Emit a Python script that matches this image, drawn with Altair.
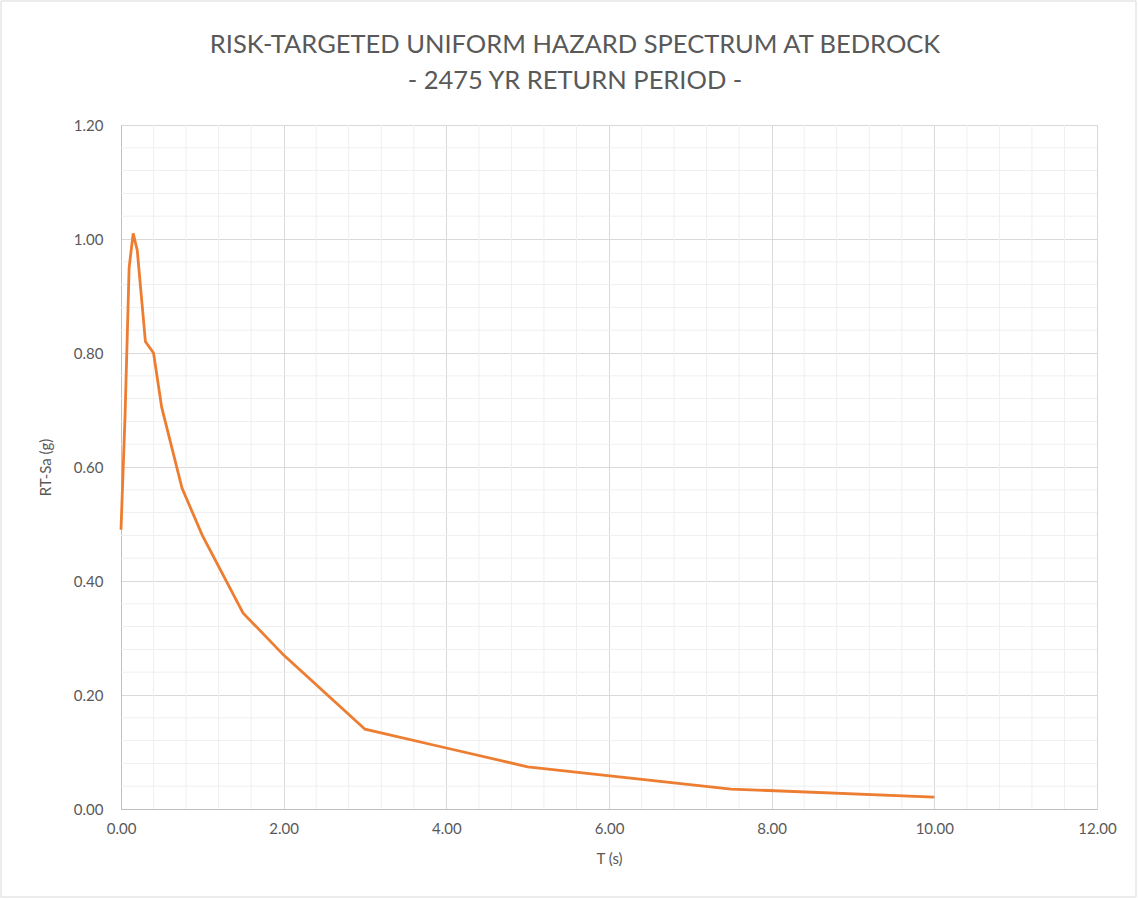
import altair as alt
import pandas as pd

# Risk-targeted uniform hazard spectrum at bedrock (2475 yr return period)
period_s = [0.0, 0.05, 0.10, 0.15, 0.20, 0.30, 0.40, 0.50, 0.75, 1.00, 1.50, 2.00,
            3.00, 4.00, 5.00, 7.50, 10.00]
rt_sa_g = [0.49, 0.69, 0.95, 1.01, 0.98, 0.82, 0.80, 0.705, 0.563, 0.48, 0.344, 0.27,
           0.14, 0.107, 0.074, 0.035, 0.021]

x_major = [0, 2, 4, 6, 8, 10, 12]
y_major = [0.0, 0.2, 0.4, 0.6, 0.8, 1.0, 1.2]
x_minor = [round(i * 0.4, 2) for i in range(31) if i % 5 != 0]
y_minor = [round(i * 0.04, 2) for i in range(31) if i % 5 != 0]

FONT = "Lato"
TEXT = "#595959"
ORANGE = "#ED7D31"

spectrum = pd.DataFrame({"T": period_s, "Sa": rt_sa_g})

x_scale = alt.Scale(domain=[0, 12], nice=False, zero=True)
y_scale = alt.Scale(domain=[0, 1.2], nice=False)

common_axis = dict(
    format=".2f", grid=True, gridColor="#d9d9d9", tickSize=0,
    domainColor="#bfbfbf", labelFont=FONT, titleFont=FONT,
    labelColor=TEXT, titleColor=TEXT, labelFontSize=15, titleFontSize=15,
    titleFontWeight="normal", labelFlush=False,
)
x_axis = alt.Axis(values=x_major, title="T (s)", labelPadding=12, titlePadding=15,
                  **common_axis)
y_axis = alt.Axis(values=y_major, title="RT-Sa (g)", labelPadding=18, titlePadding=20,
                  **common_axis)

minor_v = alt.Chart(pd.DataFrame({"T": x_minor})).mark_rule(
    color="#efefef", strokeWidth=1
).encode(x=alt.X("T:Q", scale=x_scale, axis=x_axis))

minor_h = alt.Chart(pd.DataFrame({"Sa": y_minor})).mark_rule(
    color="#efefef", strokeWidth=1
).encode(y=alt.Y("Sa:Q", scale=y_scale, axis=y_axis))

curve = alt.Chart(spectrum).mark_line(color=ORANGE, strokeWidth=2.8).encode(
    x=alt.X("T:Q", scale=x_scale, axis=x_axis),
    y=alt.Y("Sa:Q", scale=y_scale, axis=y_axis),
)

# outer chart-area frame
frame = alt.Chart(pd.DataFrame({"T": [0]})).mark_rect(
    fill=None, stroke="#d9d9d9", strokeWidth=1, clip=False
).encode(x=alt.value(-120), x2=alt.value(1015), y=alt.value(-124), y2=alt.value(772))

chart = (
    alt.layer(minor_v, minor_h, curve, frame)
    .properties(
        width=976,
        height=684,
        title=alt.Title(
            ["RISK-TARGETED UNIFORM HAZARD SPECTRUM AT BEDROCK", "- 2475 YR RETURN  PERIOD -"],
            fontSize=25.5, font=FONT, color=TEXT, fontWeight="normal",
            anchor="middle", dx=-34, offset=30, dy=124, lineHeight=36,
        ),
        autosize=alt.AutoSizeParams(type="none"),
        padding={"left": 121, "top": 125, "right": 41, "bottom": 91},
    )
    .configure_view(stroke="#d9d9d9", strokeWidth=1)
    .configure(background="white")
)

chart.save("out.html", embed_options={"renderer": "svg", "actions": False})
